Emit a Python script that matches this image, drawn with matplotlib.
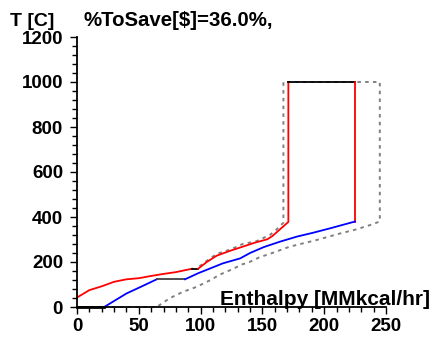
import matplotlib
matplotlib.use("Agg")
import matplotlib.pyplot as plt
from matplotlib.ticker import MultipleLocator

# hot composite curve (red), with isothermal parts in black
hot_x1 = [0, 10, 20, 30, 40, 50, 60, 70, 80, 93]
hot_y1 = [42, 75, 92, 112, 123, 128, 138, 147, 155, 170]
hot_flat_x = [93, 98]
hot_flat_y = [170, 170]
hot_x2 = [98, 105, 113, 124, 134, 144, 154, 158, 171, 171]
hot_y2 = [170, 200, 228, 250, 268, 286, 301, 315, 378, 1000]
top_x = [171, 225]
top_y = [1000, 1000]
hot_x3 = [225, 225]
hot_y3 = [1000, 380]

# cold composite curve (blue)
cold_flat0_x = [0, 22]
cold_flat0_y = [0, 0]
cold_x1 = [22, 40, 51, 64.5]
cold_y1 = [0, 60, 88, 123]
cold_flat_x = [64.5, 87.4]
cold_flat_y = [123, 123]
cold_x2 = [87.4, 98, 108, 118, 132, 140, 151, 164, 178, 191, 205, 225]
cold_y2 = [123, 150, 172, 194, 216, 240, 266, 290, 313, 330, 350, 380]

# dotted reference outline
ref_x = [22, 64.5, 75, 86, 97, 108, 116, 124, 134, 140, 148, 156, 172, 194,
         213, 226, 237, 245, 245, 167, 167, 161, 156, 145, 134, 124, 113, 105, 97]
ref_y = [0, 0, 39, 68, 90, 120, 145, 164, 190, 201, 222, 236, 268, 298,
         327, 345, 364, 380, 1000, 1000, 375, 342, 320, 292, 280, 255, 236, 205, 172]

plt.rcParams['font.family'] = ['Liberation Sans', 'DejaVu Sans']
plt.rcParams['font.weight'] = 'bold'

W, H = 435, 340
fig = plt.figure(figsize=(W / 100, H / 100), dpi=100)
ax = fig.add_axes([77 / W, 33 / H, 309 / W, 270 / H])

ax.plot(ref_x, ref_y, color='#808080', lw=1.4, linestyle=(0, (1.8, 2.2)), clip_on=False)
ax.plot(hot_x1, hot_y1, color='#ff0000', lw=1.3)
ax.plot(hot_flat_x, hot_flat_y, color='black', lw=1.3)
ax.plot(hot_x2, hot_y2, color='#ff0000', lw=1.3)
ax.plot(top_x, top_y, color='black', lw=1.3)
ax.plot(hot_x3, hot_y3, color='#ff0000', lw=1.3)
ax.plot(cold_flat0_x, cold_flat0_y, color='black', lw=2, clip_on=False)
ax.plot(cold_x1, cold_y1, color='#0000ff', lw=1.3)
ax.plot(cold_flat_x, cold_flat_y, color='#404040', lw=1.3)
ax.plot(cold_x2, cold_y2, color='#0000ff', lw=1.3)

ax.set_xlim(0, 250)
ax.set_ylim(0, 1200)
ax.spines['top'].set_visible(False)
ax.spines['right'].set_visible(False)
for s in ('left', 'bottom'):
    ax.spines[s].set_linewidth(1.3)
ax.xaxis.set_major_locator(MultipleLocator(50))
ax.xaxis.set_minor_locator(MultipleLocator(10))
ax.yaxis.set_major_locator(MultipleLocator(200))
ax.yaxis.set_minor_locator(MultipleLocator(40))
ax.tick_params(which='major', length=5, width=1, pad=3, labelsize=13.5)
ax.tick_params(which='minor', length=3.5, width=1)
ax.tick_params(axis='y', pad=5)

fig.text(10 / W, 1 - 26 / H, 'T [C]', fontsize=14)
fig.text(83 / W, 1 - 26 / H, '%ToSave[$]=36.0%,', fontsize=14.7)
fig.text(430 / W, 1 - 305 / H, 'Enthalpy [MMkcal/hr]', fontsize=15, ha='right')

fig.savefig('out.png', dpi=100)
